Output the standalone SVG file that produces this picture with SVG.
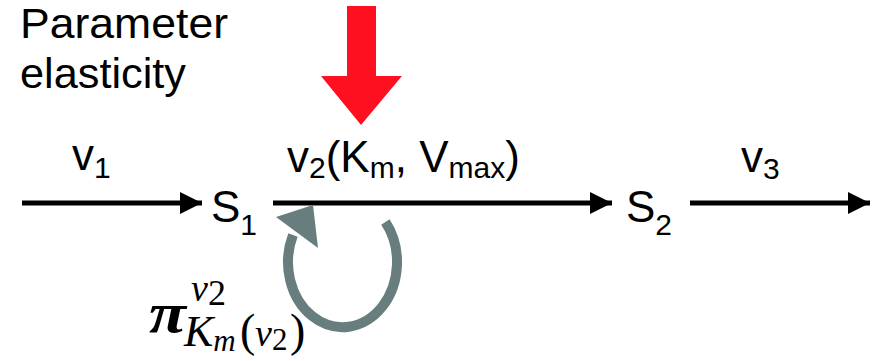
<svg xmlns="http://www.w3.org/2000/svg" width="878" height="361" viewBox="0 0 878 361">
  <defs>
    <marker id="ah" markerWidth="22" markerHeight="22" refX="22" refY="11" orient="auto" markerUnits="userSpaceOnUse">
      <path d="M0,0 L22,11 L0,22 Z" fill="#000"/>
    </marker>
    <style>
      .lbl { font-family: "Liberation Sans", Arial, Helvetica, sans-serif; font-size: 44px; fill: #000; }
      .ttl { font-size: 42px; }
      .sub { font-size: 30px; }
      .math { font-family: "Liberation Serif", "Times New Roman", serif; font-style: italic; fill: #000; }
      .up { font-style: normal; }
      .flux { stroke: #000; stroke-width: 5; fill: none; marker-end: url(#ah); }
      .loop { fill: none; stroke: #687E7E; stroke-width: 10; }
    </style>
  </defs>
  <rect width="878" height="361" fill="#fff"/>

  <g id="title">
    <text class="lbl ttl" x="20" y="38" textLength="208" lengthAdjust="spacingAndGlyphs">Parameter</text>
    <text class="lbl ttl" x="20" y="88" textLength="166" lengthAdjust="spacingAndGlyphs">elasticity</text>
  </g>

  <g id="perturbation">
    <polygon points="347,6 376,6 376,76 402,76 361,125 321,76 347,76" fill="#FF1020"/>
  </g>

  <g id="connectors">
    <line class="flux" x1="22" y1="203" x2="202" y2="203"/>
    <line class="flux" x1="273" y1="203" x2="612" y2="203"/>
    <line class="flux" x1="690" y1="203" x2="870" y2="203"/>
  </g>

  <g id="v1">
    <text class="lbl" x="72" y="170">v<tspan class="sub" dy="8">1</tspan></text>
  </g>
  <g id="S1">
    <text class="lbl" x="211" y="222">S<tspan class="sub" dy="13">1</tspan></text>
  </g>
  <g id="v2">
    <text class="lbl" x="287" y="172">v<tspan class="sub" dy="6">2</tspan><tspan dy="-6">(K</tspan><tspan class="sub" dy="6">m</tspan><tspan dy="-6">, V</tspan><tspan class="sub" dy="6">max</tspan><tspan dy="-6">)</tspan></text>
  </g>
  <g id="S2">
    <text class="lbl" x="626" y="222">S<tspan class="sub" dy="13">2</tspan></text>
  </g>
  <g id="v3">
    <text class="lbl" x="741" y="172">v<tspan class="sub" dy="7">3</tspan></text>
  </g>

  <g id="elasticity-loop">
    <path class="loop" d="M385.4,222 A54.5,65 0 1 1 293,235"/>
    <polygon points="313,205 276,217 318,248" fill="#687E7E"/>
  </g>

  <g id="pi-label">
    <text class="math" x="149" y="332" font-size="58" font-weight="bold" textLength="37" lengthAdjust="spacingAndGlyphs">π</text>
    <text class="math" x="191" y="301" font-size="38">v<tspan class="up" font-size="36" dy="4">2</tspan></text>
    <text class="math" x="184" y="346" font-size="44">K<tspan font-size="31" dy="5">m</tspan><tspan class="up" font-size="46" x="240" dy="-5">(</tspan><tspan font-size="38" x="255">v</tspan><tspan class="up" font-size="31" x="272" dy="4">2</tspan><tspan class="up" font-size="46" x="290" dy="-4">)</tspan></text>
  </g>
</svg>
